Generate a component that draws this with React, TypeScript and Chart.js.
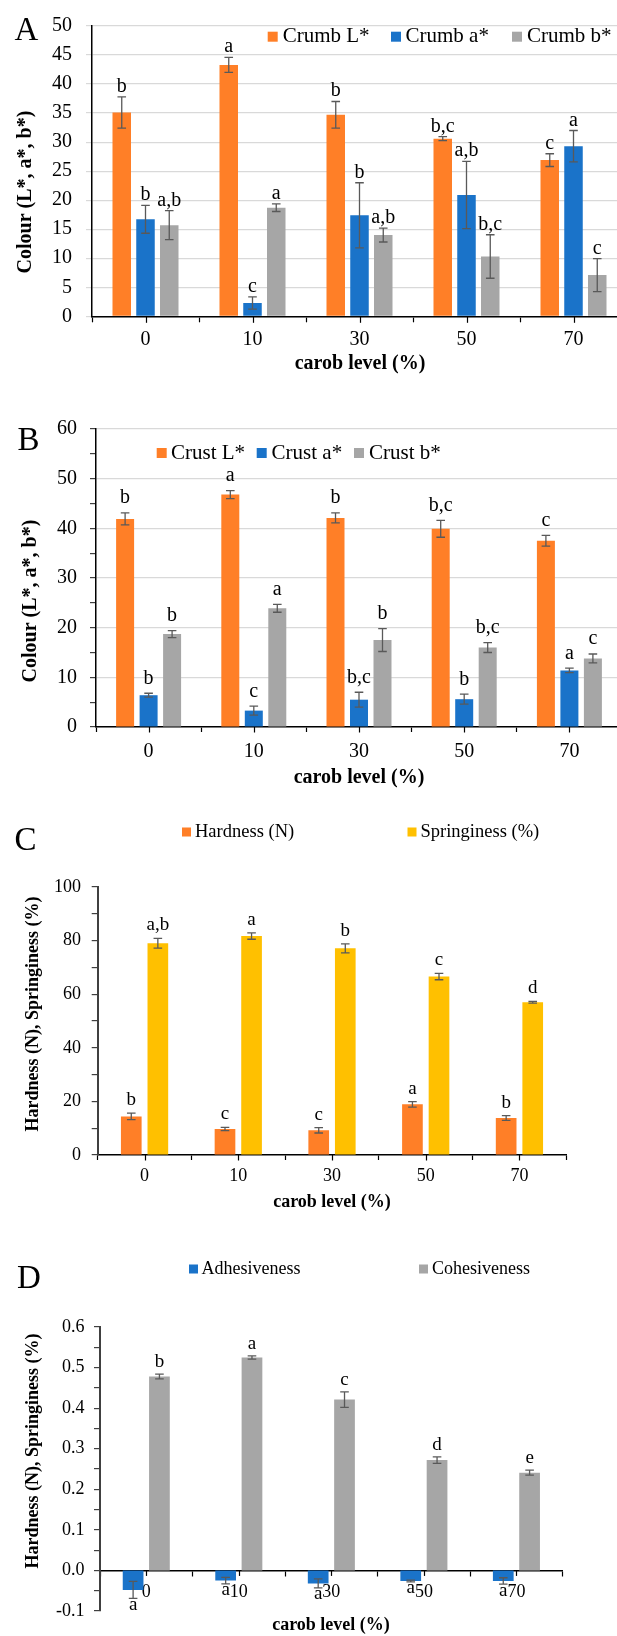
import { useEffect, useRef } from 'react';
import { Chart, registerables } from 'chart.js';

Chart.register(...registerables);

const SERIF = '"Liberation Serif", "Times New Roman", Times, serif';

// ---- categories ----
const carobLevels = ['0', '10', '30', '50', '70'];

// ---- Panel A: crumb colour ----
const crumbL = [35.1, 43.3, 34.7, 30.6, 26.9];
const crumbLSd = [2.7, 1.3, 2.3, 0.35, 1.1];
const crumbA = [16.7, 2.3, 17.4, 20.9, 29.3];
const crumbASd = [2.4, 1.05, 5.6, 5.8, 2.7];
const crumbB = [15.7, 18.7, 14.0, 10.3, 7.1];
const crumbBSd = [2.5, 0.65, 1.2, 3.75, 2.85];
const crumbLSig = ['b', 'a', 'b', 'b,c', 'c'];
const crumbASig = ['b', 'c', 'b', 'a,b', 'a'];
const crumbBSig = ['a,b', 'a', 'a,b', 'b,c', 'c'];

// ---- Panel B: crust colour ----
const crustL = [41.9, 46.8, 42.1, 39.9, 37.5];
const crustLSd = [1.2, 0.8, 1.0, 1.7, 1.1];
const crustA = [6.4, 3.3, 5.5, 5.6, 11.4];
const crustASd = [0.4, 0.9, 1.5, 1.0, 0.45];
const crustB = [18.7, 23.9, 17.5, 16.0, 13.8];
const crustBSd = [0.7, 0.8, 2.3, 1.0, 0.9];
const crustLSig = ['b', 'a', 'b', 'b,c', 'c'];
const crustASig = ['b', 'c', 'b,c', 'b', 'a'];
const crustBSig = ['b', 'a', 'b', 'b,c', 'c'];

// ---- Panel C: hardness / springiness ----
const hardness = [14.4, 9.7, 9.2, 18.9, 13.8];
const hardnessSd = [1.2, 0.6, 1.0, 1.0, 0.9];
const springiness = [79.0, 81.7, 77.1, 66.6, 57.0];
const springinessSd = [1.8, 1.2, 1.7, 1.2, 0.3];
const hardnessSig = ['b', 'c', 'c', 'a', 'b'];
const springinessSig = ['a,b', 'a', 'b', 'c', 'd'];

// ---- Panel D: adhesiveness / cohesiveness ----
const adhesiveness = [-0.048, -0.025, -0.032, -0.026, -0.026];
const adhesivenessSd = [0.021, 0.008, 0.011, 0.002, 0.008];
const cohesiveness = [0.478, 0.525, 0.421, 0.272, 0.241];
const cohesivenessSd = [0.006, 0.004, 0.019, 0.008, 0.006];
const adhesivenessSig = ['a', 'a', 'a', 'a', 'a'];
const cohesivenessSig = ['b', 'a', 'c', 'd', 'e'];

const ORANGE = '#FF7F27';
const BLUE = '#1A73C9';
const GRAY = '#A6A6A6';
const YELLOW = '#FFC000';

type Series = { label: string; data: number[]; sd: number[]; sig: string[]; color: string };
type TextItem = { text: string; x: number; y: number; size: number; bold?: boolean; rotate?: boolean; baseline?: CanvasTextBaseline };
type Panel = {
  top: number; width: number; height: number;
  area: { left: number; top: number; right: number; bottom: number };
  series: Series[];
  yMin: number; yMax: number; yStep: number; labelEvery: number; fmt: (v: number) => string;
  grid: boolean; yTickColor: string; yAxisColor: string; yAxisWidth: number;
  yTickLen: number; yTickPad: number; xTickLen: number; xTickPad: number; tickSize: number;
  catPct: number; barPct: number;
  letterSize: number; letterGap: number; letterGapNeg: number;
  zeroAxis: boolean;
  legend: { y: number; box: number; size: number; items: { boxX: number; textX: number }[] };
  texts: TextItem[];
};

const XH = 40;

const panels: Panel[] = [
  {
    top: 0, width: 640, height: 390,
    area: { left: 92, top: 20.3, right: 627, bottom: 316.3 },
    series: [
      { label: 'Crumb L*', data: crumbL, sd: crumbLSd, sig: crumbLSig, color: ORANGE },
      { label: 'Crumb a*', data: crumbA, sd: crumbASd, sig: crumbASig, color: BLUE },
      { label: 'Crumb b*', data: crumbB, sd: crumbBSd, sig: crumbBSig, color: GRAY },
    ],
    yMin: 0, yMax: 50, yStep: 5, labelEvery: 5, fmt: (v) => String(Math.round(v)),
    grid: true, yTickColor: '#D9D9D9', yAxisColor: '#000', yAxisWidth: 1.5,
    yTickLen: 6, yTickPad: 14, xTickLen: 6, xTickPad: 5.7, tickSize: 20,
    catPct: 0.666, barPct: 0.779,
    letterSize: 20, letterGap: 5, letterGapNeg: 12, zeroAxis: false,
    legend: { y: 36.7, box: 10, size: 21, items: [{ boxX: 267.7, textX: 282.7 }, { boxX: 391, textX: 405.5 }, { boxX: 512, textX: 527 }] },
    texts: [
      { text: 'A', x: 26.5, y: 40, size: 33 },
      { text: 'Colour (L*, a*, b*)', x: 25.5, y: 192, size: 20, bold: true, rotate: true, baseline: 'middle' },
      { text: 'carob level (%)', x: 360, y: 364, size: 20, bold: true, baseline: 'middle' },
    ],
  },
  {
    top: 390, width: 640, height: 400,
    area: { left: 96, top: 39, right: 622, bottom: 337 },
    series: [
      { label: 'Crust L*', data: crustL, sd: crustLSd, sig: crustLSig, color: ORANGE },
      { label: 'Crust a*', data: crustA, sd: crustASd, sig: crustASig, color: BLUE },
      { label: 'Crust b*', data: crustB, sd: crustBSd, sig: crustBSig, color: GRAY },
    ],
    yMin: 0, yMax: 60, yStep: 5, labelEvery: 10, fmt: (v) => String(Math.round(v)),
    grid: true, yTickColor: '#404040', yAxisColor: '#000', yAxisWidth: 1.5,
    yTickLen: 6, yTickPad: 13, xTickLen: 5, xTickPad: 8, tickSize: 20,
    catPct: 0.67, barPct: 0.766,
    letterSize: 20, letterGap: 9.5, letterGapNeg: 12, zeroAxis: false,
    legend: { y: 63, box: 10, size: 21, items: [{ boxX: 156.7, textX: 171 }, { boxX: 256.7, textX: 271.6 }, { boxX: 354, textX: 369 }] },
    texts: [
      { text: 'B', x: 28.5, y: 60, size: 33 },
      { text: 'Colour (L*, a*, b*)', x: 30.5, y: 211, size: 20, bold: true, rotate: true, baseline: 'middle' },
      { text: 'carob level (%)', x: 359, y: 388, size: 20, bold: true, baseline: 'middle' },
    ],
  },
  {
    top: 790, width: 617, height: 430,
    area: { left: 97.7, top: 97, right: 566.3, bottom: 365 },
    series: [
      { label: 'Hardness (N)', data: hardness, sd: hardnessSd, sig: hardnessSig, color: ORANGE },
      { label: 'Springiness (%)', data: springiness, sd: springinessSd, sig: springinessSig, color: YELLOW },
    ],
    yMin: 0, yMax: 100, yStep: 10, labelEvery: 20, fmt: (v) => String(Math.round(v)),
    grid: false, yTickColor: '#404040', yAxisColor: '#404040', yAxisWidth: 2,
    yTickLen: 6, yTickPad: 10.7, xTickLen: 5, xTickPad: 5.9, tickSize: 18,
    catPct: 0.567, barPct: 0.778,
    letterSize: 19, letterGap: 8, letterGapNeg: 12, zeroAxis: false,
    legend: { y: 42, box: 9, size: 18.5, items: [{ boxX: 182, textX: 195 }, { boxX: 407.5, textX: 420.5 }] },
    texts: [
      { text: 'C', x: 25.5, y: 60, size: 33 },
      { text: 'Hardness (N), Springiness (%)', x: 33, y: 224, size: 18, bold: true, rotate: true, baseline: 'middle' },
      { text: 'carob level (%)', x: 332, y: 412, size: 18, bold: true, baseline: 'middle' },
    ],
  },
  {
    top: 1220, width: 617, height: 416,
    area: { left: 100, top: 107, right: 562.7, bottom: 391 },
    series: [
      { label: 'Adhesiveness', data: adhesiveness, sd: adhesivenessSd, sig: adhesivenessSig, color: BLUE },
      { label: 'Cohesiveness', data: cohesiveness, sd: cohesivenessSd, sig: cohesivenessSig, color: GRAY },
    ],
    yMin: -0.1, yMax: 0.6, yStep: 0.05, labelEvery: 0.1, fmt: (v) => (Math.round(v * 10) / 10).toFixed(1),
    grid: false, yTickColor: '#404040', yAxisColor: '#404040', yAxisWidth: 2,
    yTickLen: 6, yTickPad: 9.4, xTickLen: 5, xTickPad: 5.8, tickSize: 18,
    catPct: 0.569, barPct: 0.787,
    letterSize: 19, letterGap: 7, letterGapNeg: 11.5, zeroAxis: true,
    legend: { y: 49, box: 9, size: 18, items: [{ boxX: 189, textX: 201.6 }, { boxX: 419, textX: 432 }] },
    texts: [
      { text: 'D', x: 29, y: 68, size: 33 },
      { text: 'Hardness (N), Springiness (%)', x: 33.5, y: 231, size: 18, bold: true, rotate: true, baseline: 'middle' },
      { text: 'carob level (%)', x: 331, y: 405, size: 18, bold: true, baseline: 'middle' },
    ],
  },
];

function decorPlugin(p: Panel) {
  return {
    id: 'decor',
    afterDraw(chart: any) {
      const ctx: CanvasRenderingContext2D = chart.ctx;
      const xs = chart.scales.x;
      const ys = chart.scales.y;
      ctx.save();
      // tick marks at category centres
      const axisY = p.zeroAxis ? ys.getPixelForValue(0) : chart.chartArea.bottom;
      ctx.strokeStyle = '#000';
      ctx.lineWidth = 1.2;
      for (let i = 0; i < carobLevels.length; i++) {
        const px = Math.round(xs.getPixelForValue(i)) + 0.5;
        ctx.beginPath();
        ctx.moveTo(px, axisY);
        ctx.lineTo(px, axisY + p.xTickLen + 0.5);
        ctx.stroke();
      }
      // error bars + significance letters
      p.series.forEach((s, di) => {
        const meta = chart.getDatasetMeta(di);
        meta.data.forEach((el: any, i: number) => {
          const v = s.data[i];
          const e = s.sd[i];
          const x = el.x;
          const yHi = ys.getPixelForValue(v + e);
          const yLo = ys.getPixelForValue(v - e);
          const cap = 4.3;
          ctx.strokeStyle = '#595959';
          ctx.lineWidth = 1.3;
          ctx.beginPath();
          ctx.moveTo(x, yHi); ctx.lineTo(x, yLo);
          ctx.moveTo(x - cap, yHi); ctx.lineTo(x + cap, yHi);
          ctx.moveTo(x - cap, yLo); ctx.lineTo(x + cap, yLo);
          ctx.stroke();
          ctx.fillStyle = '#000';
          ctx.font = `${p.letterSize}px ${SERIF}`;
          ctx.textAlign = 'center';
          ctx.textBaseline = 'alphabetic';
          if (v >= 0) ctx.fillText(s.sig[i], x, yHi - p.letterGap);
          else ctx.fillText(s.sig[i], x, yLo + p.letterGapNeg);
        });
      });
      // legend
      const lg = p.legend;
      chart.data.datasets.forEach((ds: any, i: number) => {
        const it = lg.items[i];
        ctx.fillStyle = ds.backgroundColor;
        ctx.fillRect(it.boxX, lg.y - lg.box / 2, lg.box, lg.box);
        ctx.fillStyle = '#000';
        ctx.font = `${lg.size}px ${SERIF}`;
        ctx.textAlign = 'left';
        ctx.textBaseline = 'middle';
        ctx.fillText(ds.label, it.textX, lg.y);
      });
      // panel letter and axis titles
      p.texts.forEach((t) => {
        ctx.save();
        ctx.fillStyle = '#000';
        ctx.font = `${t.bold ? 'bold ' : ''}${t.size}px ${SERIF}`;
        ctx.textAlign = 'center';
        ctx.textBaseline = t.baseline || 'alphabetic';
        ctx.translate(t.x, t.y);
        if (t.rotate) ctx.rotate(-Math.PI / 2);
        ctx.fillText(t.text, 0, 0);
        ctx.restore();
      });
      ctx.restore();
    },
  };
}

function buildConfig(p: Panel): any {
  const isMajor = (v: number) => Math.abs(v / p.labelEvery - Math.round(v / p.labelEvery)) < 1e-6;
  const tickFont = { family: SERIF, size: p.tickSize };
  return {
    type: 'bar',
    data: {
      labels: carobLevels,
      datasets: p.series.map((s) => ({
        label: s.label,
        data: s.data,
        backgroundColor: s.color,
        borderWidth: 0,
        categoryPercentage: p.catPct,
        barPercentage: p.barPct,
      })),
    },
    plugins: [decorPlugin(p)],
    options: {
      responsive: false,
      animation: false,
      devicePixelRatio: 1,
      layout: {
        padding: {
          left: 0,
          top: p.area.top,
          right: p.width - p.area.right,
          bottom: p.zeroAxis ? p.height - p.area.bottom : p.height - p.area.bottom - XH,
        },
      },
      plugins: { legend: { display: false }, tooltip: { enabled: false }, title: { display: false } },
      scales: {
        x: {
          type: 'category',
          position: p.zeroAxis ? { y: 0 } : 'bottom',
          offset: true,
          z: 1,
          grid: { display: true, drawOnChartArea: false, drawTicks: true, tickLength: p.xTickLen, tickColor: '#000', tickWidth: 1.2, offset: true },
          border: { display: true, color: '#000', width: 1.5 },
          ticks: { font: tickFont, color: '#000', padding: p.xTickPad, autoSkip: false, maxRotation: 0, minRotation: 0 },
          afterFit: (s: any) => { s.height = XH; },
        },
        y: {
          type: 'linear',
          min: p.yMin,
          max: p.yMax,
          grid: {
            display: true,
            drawOnChartArea: p.grid,
            drawTicks: true,
            tickLength: p.yTickLen,
            color: (c: any) => (c.tick && isMajor(c.tick.value) ? '#D9D9D9' : 'rgba(0,0,0,0)'),
            tickColor: p.yTickColor,
            lineWidth: 1.2,
            tickWidth: 1.2,
          },
          border: { display: true, color: p.yAxisColor, width: p.yAxisWidth },
          ticks: {
            stepSize: p.yStep,
            maxTicksLimit: 100,
            autoSkip: false,
            font: tickFont,
            color: '#000',
            padding: p.yTickPad,
            callback: (v: number) => (isMajor(v) ? p.fmt(v) : ''),
          },
          afterFit: (s: any) => { s.width = p.area.left; },
        },
      },
    },
  };
}

function PanelChart({ p }: { p: Panel }) {
  const ref = useRef<HTMLCanvasElement>(null);
  useEffect(() => {
    const chart = new Chart(ref.current as HTMLCanvasElement, buildConfig(p));
    return () => chart.destroy();
  }, [p]);
  return (
    <canvas
      ref={ref}
      width={p.width}
      height={p.height}
      style={{ position: 'absolute', left: 0, top: p.top, width: p.width, height: p.height, display: 'block' }}
    />
  );
}

export default function App() {
  return (
    <div style={{ position: 'absolute', left: 0, top: 0, width: 617, height: 1636, overflow: 'hidden', background: '#fff' }}>
      {panels.map((p, i) => (
        <PanelChart key={i} p={p} />
      ))}
    </div>
  );
}
